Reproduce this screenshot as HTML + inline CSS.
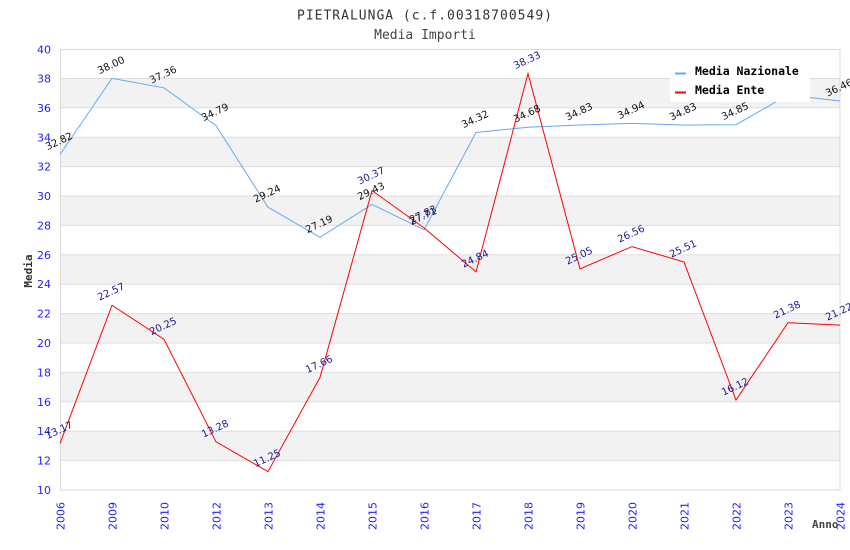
<!DOCTYPE html>
<html><head><meta charset="utf-8"><style>
html,body{margin:0;padding:0;background:#fff;}
svg{display:block;}
.yt{font-family:"DejaVu Sans","Liberation Sans",sans-serif;font-size:11px;fill:#1f1fff;text-anchor:end;}
.xt{font-family:"DejaVu Sans","Liberation Sans",sans-serif;font-size:11px;fill:#1f1fff;text-anchor:end;}
.ln{font-family:"DejaVu Sans","Liberation Sans",sans-serif;font-size:10px;fill:#111;text-anchor:middle;}
.le{font-family:"DejaVu Sans","Liberation Sans",sans-serif;font-size:10px;fill:#1a1a8c;text-anchor:middle;}
.mono{font-family:"DejaVu Sans Mono","Liberation Mono",monospace;}
</style></head><body>
<svg width="850" height="550" viewBox="0 0 850 550" xmlns="http://www.w3.org/2000/svg">
<rect width="850" height="550" fill="#fff"/>
<text x="425" y="19.5" class="mono" font-size="13" letter-spacing="1" fill="#333" text-anchor="middle">PIETRALUNGA (c.f.00318700549)</text>
<text x="425" y="39" class="mono" font-size="13" fill="#444" text-anchor="middle">Media Importi</text>
<!-- bands -->
<g fill="#f2f2f2">
<rect x="60" y="78.4" width="780" height="29.4"/>
<rect x="60" y="137.2" width="780" height="29.4"/>
<rect x="60" y="196" width="780" height="29.4"/>
<rect x="60" y="254.8" width="780" height="29.4"/>
<rect x="60" y="313.6" width="780" height="29.4"/>
<rect x="60" y="372.4" width="780" height="29.4"/>
<rect x="60" y="431.2" width="780" height="29.4"/>
</g>
<g stroke="#ddd" stroke-width="1">
<line x1="60" x2="840" y1="78.5" y2="78.5"/>
<line x1="60" x2="840" y1="107.8" y2="107.8"/>
<line x1="60" x2="840" y1="137.2" y2="137.2"/>
<line x1="60" x2="840" y1="166.6" y2="166.6"/>
<line x1="60" x2="840" y1="196" y2="196"/>
<line x1="60" x2="840" y1="225.4" y2="225.4"/>
<line x1="60" x2="840" y1="254.8" y2="254.8"/>
<line x1="60" x2="840" y1="284.2" y2="284.2"/>
<line x1="60" x2="840" y1="313.6" y2="313.6"/>
<line x1="60" x2="840" y1="343" y2="343"/>
<line x1="60" x2="840" y1="372.4" y2="372.4"/>
<line x1="60" x2="840" y1="401.8" y2="401.8"/>
<line x1="60" x2="840" y1="431.2" y2="431.2"/>
<line x1="60" x2="840" y1="460.6" y2="460.6"/>
</g>
<rect x="60.5" y="49.5" width="779.5" height="440.5" fill="none" stroke="#d8d8d8" stroke-width="1"/>
<!-- y ticks -->
<g class="yt">
<text x="51" y="53.5">40</text>
<text x="51" y="82.5">38</text>
<text x="51" y="112">36</text>
<text x="51" y="141.5">34</text>
<text x="51" y="170.5">32</text>
<text x="51" y="200">30</text>
<text x="51" y="229.5">28</text>
<text x="51" y="259">26</text>
<text x="51" y="288">24</text>
<text x="51" y="317.5">22</text>
<text x="51" y="347">20</text>
<text x="51" y="376.5">18</text>
<text x="51" y="406">16</text>
<text x="51" y="435">14</text>
<text x="51" y="464.5">12</text>
<text x="51" y="494">10</text>
</g>
<!-- x ticks -->
<g class="xt">
<text transform="translate(64.5,502) rotate(-90)">2006</text>
<text transform="translate(116.5,502) rotate(-90)">2009</text>
<text transform="translate(168.5,502) rotate(-90)">2010</text>
<text transform="translate(220.5,502) rotate(-90)">2012</text>
<text transform="translate(272.5,502) rotate(-90)">2013</text>
<text transform="translate(324.5,502) rotate(-90)">2014</text>
<text transform="translate(376.5,502) rotate(-90)">2015</text>
<text transform="translate(428.5,502) rotate(-90)">2016</text>
<text transform="translate(480.5,502) rotate(-90)">2017</text>
<text transform="translate(532.5,502) rotate(-90)">2018</text>
<text transform="translate(584.5,502) rotate(-90)">2019</text>
<text transform="translate(636.5,502) rotate(-90)">2020</text>
<text transform="translate(688.5,502) rotate(-90)">2021</text>
<text transform="translate(740.5,502) rotate(-90)">2022</text>
<text transform="translate(792.5,502) rotate(-90)">2023</text>
<text transform="translate(844.5,502) rotate(-90)">2024</text>
</g>
<text transform="translate(32,271) rotate(-90)" class="mono" font-size="11" font-weight="bold" fill="#333" text-anchor="middle">Media</text>
<text x="812" y="528" class="mono" font-size="11" font-weight="bold" fill="#444">Anno</text>
<!-- series -->
<polyline fill="none" stroke="#66aaee" stroke-width="1" points="60,154.5 112,78.4 164,87.8 216,125.6 268,207.2 320,237.3 372,204.4 424,229.7 476,132.5 528,127.2 580,125 632,123.4 684,125 736,124.7 788,95 840,101"/>
<polyline fill="none" stroke="#ff0000" stroke-width="1" points="60,443.4 112,305.2 164,339.3 216,441.8 268,471.6 320,377.4 372,190.6 424,227.9 476,271.9 528,73.5 580,268.8 632,246.6 684,262 736,400 788,322.7 840,325.1"/>
<!-- Nazionale labels -->
<g class="ln">
<text x="59" y="144.5" transform="rotate(-25,59,141)">32.82</text>
<text x="111" y="68.5" transform="rotate(-25,111,65)">38.00</text>
<text x="163" y="78" transform="rotate(-25,163,74.5)">37.36</text>
<text x="215" y="115.5" transform="rotate(-25,215,112)">34.79</text>
<text x="267" y="197" transform="rotate(-25,267,193.5)">29.24</text>
<text x="319" y="227.5" transform="rotate(-25,319,224)">27.19</text>
<text x="371" y="194.5" transform="rotate(-25,371,191)">29.43</text>
<text x="423" y="219.5" transform="rotate(-25,423,216)">27.71</text>
<text x="475" y="122.5" transform="rotate(-25,475,119)">34.32</text>
<text x="527" y="117" transform="rotate(-25,527,113.5)">34.68</text>
<text x="579" y="115" transform="rotate(-25,579,111.5)">34.83</text>
<text x="631" y="113.5" transform="rotate(-25,631,110)">34.94</text>
<text x="683" y="115" transform="rotate(-25,683,111.5)">34.83</text>
<text x="735" y="114.5" transform="rotate(-25,735,111)">34.85</text>
<text x="787" y="85" transform="rotate(-25,787,81.5)">36.87</text>
<text x="839" y="91" transform="rotate(-25,839,87.5)">36.46</text>
</g>
<!-- Ente labels -->
<g class="le">
<text x="59" y="433.5" transform="rotate(-25,59,430)">13.17</text>
<text x="111" y="295" transform="rotate(-25,111,291.5)">22.57</text>
<text x="163" y="329.5" transform="rotate(-25,163,326)">20.25</text>
<text x="215" y="432" transform="rotate(-25,215,428.5)">13.28</text>
<text x="267" y="461.5" transform="rotate(-25,267,458)">11.25</text>
<text x="319" y="367.5" transform="rotate(-25,319,364)">17.66</text>
<text x="371" y="179" transform="rotate(-25,371,175.5)">30.37</text>
<text x="423" y="217.5" transform="rotate(-25,423,214)">27.83</text>
<text x="475" y="262" transform="rotate(-25,475,258.5)">24.84</text>
<text x="527" y="63.5" transform="rotate(-25,527,60)">38.33</text>
<text x="579" y="259" transform="rotate(-25,579,255.5)">25.05</text>
<text x="631" y="237" transform="rotate(-25,631,233.5)">26.56</text>
<text x="683" y="252" transform="rotate(-25,683,248.5)">25.51</text>
<text x="735" y="390" transform="rotate(-25,735,386.5)">16.12</text>
<text x="787" y="313" transform="rotate(-25,787,309.5)">21.38</text>
<text x="839" y="315" transform="rotate(-25,839,311.5)">21.22</text>
</g>
<!-- legend -->
<rect x="670" y="58" width="140" height="44" fill="#fff"/>
<line x1="675" x2="686" y1="73.5" y2="73.5" stroke="#66aaee" stroke-width="2"/>
<line x1="675" x2="686" y1="92.5" y2="92.5" stroke="#ff0000" stroke-width="2"/>
<text x="695" y="75" class="mono" font-size="11.5" font-weight="bold" fill="#000">Media Nazionale</text>
<text x="695" y="94" class="mono" font-size="11.5" font-weight="bold" fill="#000">Media Ente</text>
</svg>
</body></html>
